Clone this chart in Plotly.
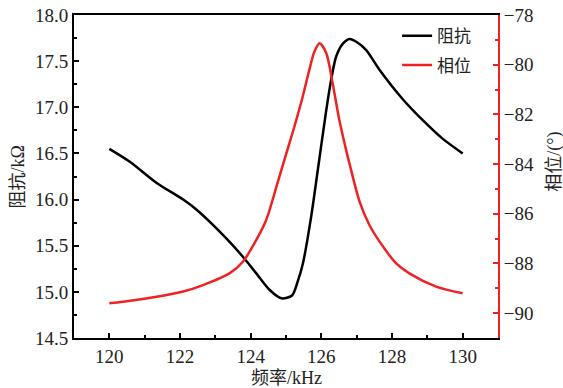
import plotly.graph_objects as go

freq_imp = [120.0, 120.58, 121.34, 122.09, 122.47, 123.31, 123.78, 124.16, 124.54, 124.87,
            125.17, 125.33, 125.48, 125.71, 125.90, 126.14, 126.28, 126.42, 126.61, 126.80,
            126.99, 127.27, 127.64, 128.30, 128.87, 129.43, 130.0]
impedance = [16.55, 16.41, 16.18, 16.00, 15.89, 15.58, 15.38, 15.20, 15.02, 14.93,
             14.96, 15.11, 15.31, 15.81, 16.32, 16.97, 17.30, 17.55, 17.69, 17.74,
             17.71, 17.62, 17.41, 17.09, 16.86, 16.66, 16.50]

freq_ph = [120.0, 120.39, 121.34, 122.09, 122.65, 123.41, 123.78, 124.16, 124.44, 124.73,
           124.91, 125.10, 125.29, 125.47, 125.66, 125.80, 125.95, 126.14, 126.32, 126.51,
           126.70, 126.80, 127.08, 127.36, 127.64, 128.12, 128.49, 129.25, 130.0]
phase = [-89.60, -89.54, -89.34, -89.13, -88.87, -88.39, -87.93, -87.05, -86.25, -84.91,
         -84.04, -83.15, -82.23, -81.30, -80.21, -79.49, -79.14, -79.54, -80.75, -82.23,
         -83.43, -84.00, -85.50, -86.45, -87.10, -88.00, -88.40, -88.93, -89.20]

SERIF = "Liberation Serif"
CJK = "Liberation Serif, Noto Sans CJK SC"
RED = "#ee2222"

fig = go.Figure()
fig.add_trace(go.Scatter(x=freq_imp, y=impedance, mode="lines", name="阻抗", legendgroup="a",
                         line=dict(color="black", width=2.5, shape="spline", smoothing=0.8)))
fig.add_trace(go.Scatter(x=freq_ph, y=phase, mode="lines", name="相位", yaxis="y2", legendgroup="b",
                         line=dict(color=RED, width=2.5, shape="spline", smoothing=0.8)))

fig.update_layout(
    width=563, height=388,
    margin=dict(l=74, r=65, t=15, b=50),
    paper_bgcolor="white", plot_bgcolor="white",
    font=dict(family=CJK, size=18, color="#222"),
    showlegend=True,
    legend=dict(x=0.762, y=0.99, xanchor="left", yanchor="top",
                bgcolor="rgba(0,0,0,0)", font=dict(family=CJK, size=17), tracegroupgap=4,
                traceorder="grouped", itemwidth=30),
    xaxis=dict(range=[119, 131], tickmode="linear", tick0=120, dtick=2, automargin=False,
               ticks="inside", ticklen=5, tickwidth=1.5, tickcolor="black",
               tickfont=dict(family=SERIF, size=19),
               minor=dict(ticks="inside", ticklen=3, dtick=1, tick0=119, tickcolor="black"),
               showline=True, linecolor="black", linewidth=2, mirror=True,
               showgrid=False, zeroline=False),
    yaxis=dict(range=[14.5, 18.0], tickmode="linear", tick0=14.5, dtick=0.5, tickformat=".1f",
               automargin=False, tickfont=dict(family=SERIF, size=19),
               ticks="inside", ticklen=5, tickwidth=1.5, tickcolor="black",
               minor=dict(ticks="inside", ticklen=3, dtick=0.25, tickcolor="black"),
               showline=True, linecolor="black", linewidth=2,
               showgrid=False, zeroline=False),
    yaxis2=dict(range=[-91, -78], overlaying="y", side="right", tickmode="linear",
                tick0=-90, dtick=2, automargin=False, tickfont=dict(family=SERIF, size=19),
                ticks="inside", ticklen=5, tickwidth=1.5, tickcolor=RED,
                minor=dict(ticks="inside", ticklen=3, dtick=1, tickcolor=RED),
                showline=True, linecolor=RED, linewidth=2,
                showgrid=False, zeroline=False),
    annotations=[
        dict(text="频率/kHz", xref="paper", yref="paper", x=0.5, y=-0.124,
             xanchor="center", yanchor="middle", showarrow=False, font=dict(family=CJK, size=18)),
        dict(text="阻抗/kΩ", xref="paper", yref="paper", x=-0.132, y=0.497, textangle=-90,
             xanchor="center", yanchor="middle", showarrow=False, font=dict(family=CJK, size=18)),
        dict(text="相位/(°)", xref="paper", yref="paper", x=1.134, y=0.545, textangle=-90,
             xanchor="center", yanchor="middle", showarrow=False, font=dict(family=CJK, size=18)),
    ],
)

fig.write_html("out.html")
